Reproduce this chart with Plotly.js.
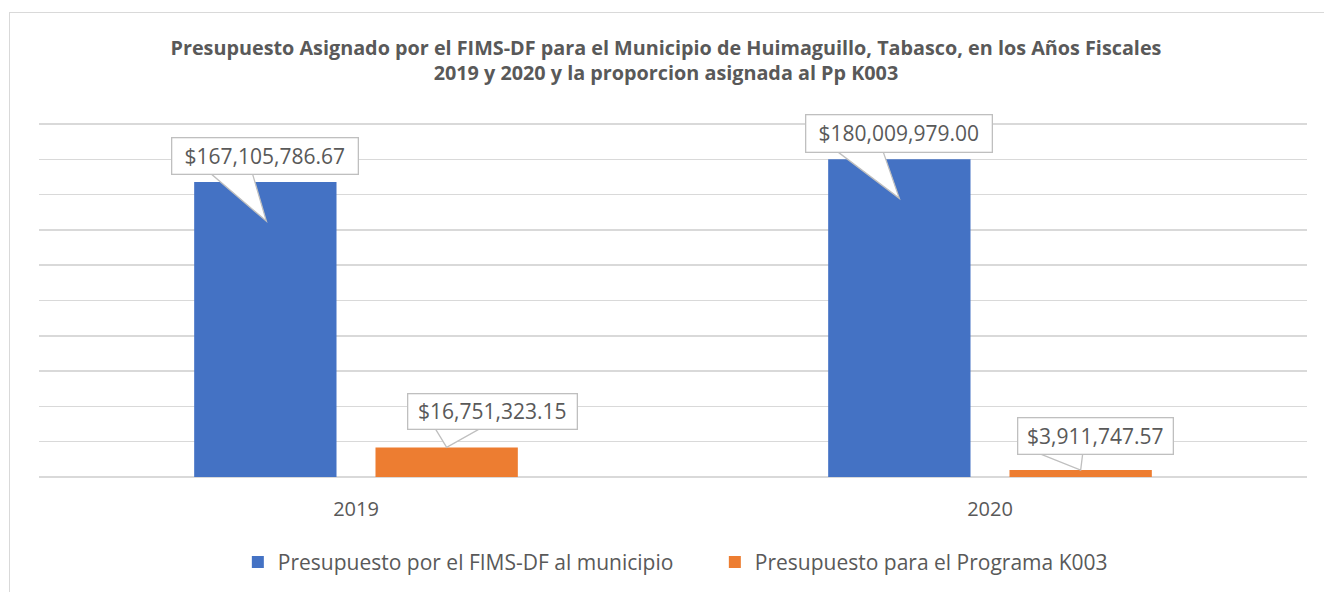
<!DOCTYPE html>
<html>
<head>
<meta charset="utf-8">
<script src="https://cdn.plot.ly/plotly-3.0.1.min.js"></script>
<style>
  html, body { margin: 0; padding: 0; background: #ffffff; }
  #chart { width: 1324px; height: 592px; position: absolute; left: 0; top: 0; }
  #frame { position: absolute; left: 9px; top: 12px; width: 1330px; height: 600px;
           border: 1.5px solid #d9d9d9; pointer-events: none; box-sizing: border-box; }
</style>
</head>
<body>
<div id="chart"></div>
<div id="frame"></div>
<script>
// ---- data ----
const years = ["2019", "2020"];
const seriesNames = ["Presupuesto por el FIMS-DF al municipio", "Presupuesto para el Programa K003"];
const fimsValues = [167105786.67, 180009979.00];
const k003Values = [16751323.15, 3911747.57];
const fimsLabels = ["$167,105,786.67", "$180,009,979.00"];
const k003Labels = ["$16,751,323.15", "$3,911,747.57"];

// ---- style ----
const BLUE = "#4472c4", ORANGE = "#ed7d31", TXT = "#595959", GRID = "#d9d9d9", BOX = "#bfbfbf";
const FONT = "Open Sans, sans-serif";
const BARGAP = 0.428, BARGROUPGAP = 0.215;
const off = (1 - BARGAP) / 4; // centre offset of each bar in a 2-bar group

const traces = [
  { type: "bar", name: seriesNames[0], x: years, y: fimsValues, marker: { color: BLUE }, hoverinfo: "y" },
  { type: "bar", name: seriesNames[1], x: years, y: k003Values, marker: { color: ORANGE }, hoverinfo: "y" }
];

// callout styling per label: [xshift, yshift, boxW, boxH, wedgePath]
const fimsCallout = [
  [0, 26.5, 187, 37, "M -61 14 L -14.5 14 L 1 -39 Z"],
  [0, 26, 187, 38, "M -67.6 12 L -17.7 12 L 0 -39 Z"]
];
const k003Callout = [
  [46, 36, 170, 36, "M -14 23 L 41 23 L 0 0 Z"],
  [15, 34.5, 156, 37, "M -52.5 21 L 2.6 21 L 0 0 Z"]
];

const annotations = [];
const shapes = [];
function addCallout(xpos, yval, text, c) {
  shapes.push({
    type: "path", xref: "x", yref: "y", xsizemode: "pixel", ysizemode: "pixel",
    xanchor: xpos, yanchor: yval, path: c[4], layer: "above",
    fillcolor: "#ffffff", line: { color: BOX, width: 1.3 }
  });
  annotations.push({
    x: xpos, y: yval, xref: "x", yref: "y", text: text, showarrow: false,
    xshift: c[0], yshift: c[1], width: c[2] - 2, height: c[3] - 2,
    bgcolor: "#ffffff", bordercolor: BOX, borderwidth: 1.3, borderpad: 0,
    font: { family: FONT, size: 21, color: TXT }, align: "center", valign: "middle"
  });
}
years.forEach((yr, i) => {
  addCallout(i - off, fimsValues[i], fimsLabels[i], fimsCallout[i]);
  addCallout(i + off, k003Values[i], k003Labels[i], k003Callout[i]);
});

const layout = {
  width: 1324, height: 592,
  paper_bgcolor: "rgba(0,0,0,0)", plot_bgcolor: "rgba(0,0,0,0)",
  margin: { l: 39, r: 17, t: 123, b: 115, pad: 0, autoexpand: false },
  font: { family: FONT, color: TXT },
  title: {
    text: "<b>Presupuesto Asignado por el FIMS-DF para el Municipio de Huimaguillo, Tabasco, en los Años Fiscales<br>2019 y 2020 y la proporcion asignada al Pp K003</b>",
    font: { family: FONT, size: 19.8, color: TXT },
    x: 0.503, xanchor: "center", xref: "container",
    y: 1 - 54.5 / 592, yanchor: "middle", yref: "container"
  },
  barmode: "group", bargap: BARGAP, bargroupgap: BARGROUPGAP,
  xaxis: {
    type: "category", showgrid: false, showline: false, ticks: "",
    ticklabelstandoff: 18, automargin: false,
    tickfont: { family: FONT, size: 20, color: TXT }, fixedrange: true
  },
  yaxis: {
    range: [0, 200600000], dtick: 20000000, showticklabels: false, automargin: false,
    showgrid: true, gridcolor: GRID, gridwidth: 1.5,
    zeroline: true, zerolinecolor: GRID, zerolinewidth: 1.5, fixedrange: true
  },
  showlegend: true,
  legend: {
    orientation: "h", x: 0.533, xanchor: "center", y: -0.241, yanchor: "middle",
    font: { family: FONT, size: 21, color: TXT }, entrywidth: 432, entrywidthmode: "pixels",
    itemclick: false, itemdoubleclick: false
  },
  annotations: annotations,
  shapes: shapes
};

Plotly.newPlot("chart", traces, layout, { displayModeBar: false, staticPlot: true });
</script>
</body>
</html>
